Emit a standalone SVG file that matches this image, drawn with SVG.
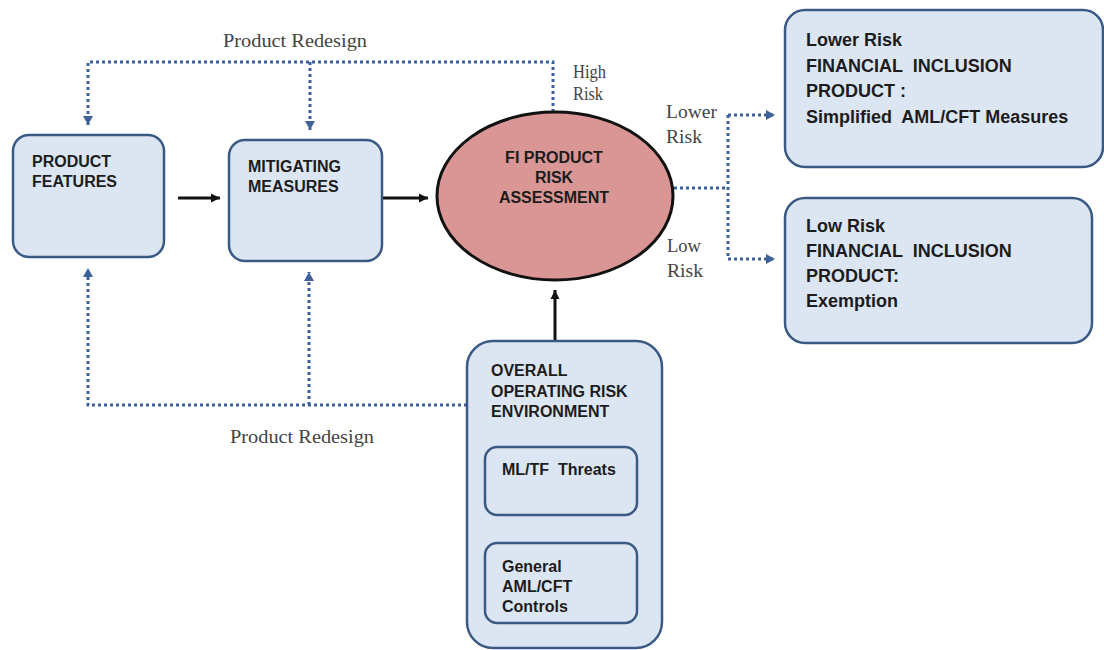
<svg xmlns="http://www.w3.org/2000/svg" width="1104" height="650" viewBox="0 0 1104 650">
<defs>
<style>
.box{fill:#dce6f2;stroke:#3a5a85;stroke-width:2.5}
.t{font-family:"Liberation Sans",Arial,sans-serif;font-weight:bold;font-size:16px;fill:#1c1c1c}
.tr{font-family:"Liberation Sans",Arial,sans-serif;font-weight:bold;font-size:18px;fill:#1c1c1c}
.s{font-family:"Liberation Serif","Times New Roman",serif;font-size:18px;fill:#444}
.dot{fill:none;stroke:#3f6199;stroke-width:3;stroke-dasharray:3 3}
.solid{fill:none;stroke:#111;stroke-width:3}
</style>
<marker id="ab" markerUnits="userSpaceOnUse" markerWidth="12" markerHeight="12" refX="10" refY="6" orient="auto">
<path d="M1,1 L10,6 L1,11 Z" fill="#3f6199"/>
</marker>
<marker id="ak" markerUnits="userSpaceOnUse" markerWidth="12" markerHeight="12" refX="10" refY="6" orient="auto">
<path d="M1,1.5 L10,6 L1,10.5 Z" fill="#111"/>
</marker>
</defs>
<rect width="1104" height="650" fill="#fff"/>

<g id="connectors">
<path class="dot" d="M553,112 V62 H88 V125" marker-end="url(#ab)"/>
<path class="dot" d="M310,62 V130" marker-end="url(#ab)"/>
<path class="dot" d="M467,405 H88 V268" marker-end="url(#ab)"/>
<path class="dot" d="M309,405 V272" marker-end="url(#ab)"/>
<path class="dot" d="M674,188 H728"/>
<path class="dot" d="M728,115 V259"/>
<path class="dot" d="M728,115 H775" marker-end="url(#ab)"/>
<path class="dot" d="M728,259 H775" marker-end="url(#ab)"/>
<path class="solid" d="M178,198 H220" marker-end="url(#ak)"/>
<path class="solid" d="M382,198 H428" marker-end="url(#ak)"/>
<path class="solid" d="M555,340 V290" marker-end="url(#ak)"/>
<text class="s" x="295" y="47" text-anchor="middle" textLength="144" lengthAdjust="spacingAndGlyphs">Product Redesign</text>
<text class="s" x="302" y="443" text-anchor="middle" textLength="144" lengthAdjust="spacingAndGlyphs">Product Redesign</text>
<text class="s" x="573" y="78" textLength="33" lengthAdjust="spacingAndGlyphs">High</text>
<text class="s" x="573" y="100" textLength="30" lengthAdjust="spacingAndGlyphs">Risk</text>
<text class="s" x="666" y="118" textLength="51" lengthAdjust="spacingAndGlyphs">Lower</text>
<text class="s" x="666" y="143" textLength="36" lengthAdjust="spacingAndGlyphs">Risk</text>
<text class="s" x="667" y="252" textLength="34" lengthAdjust="spacingAndGlyphs">Low</text>
<text class="s" x="667" y="277" textLength="36" lengthAdjust="spacingAndGlyphs">Risk</text>
</g>

<g id="product-features">
<rect class="box" x="13" y="135" width="151" height="122" rx="16"/>
<text class="t" x="32" y="167">PRODUCT</text>
<text class="t" x="32" y="187">FEATURES</text>
</g>

<g id="mitigating-measures">
<rect class="box" x="229" y="140" width="153" height="121" rx="16"/>
<text class="t" x="248" y="172">MITIGATING</text>
<text class="t" x="248" y="192">MEASURES</text>
</g>

<g id="risk-assessment">
<ellipse cx="555" cy="196" rx="118" ry="84" fill="#d99694" stroke="#111" stroke-width="3"/>
<text class="t" x="554" y="163" text-anchor="middle">FI PRODUCT</text>
<text class="t" x="554" y="183" text-anchor="middle">RISK</text>
<text class="t" x="554" y="203" text-anchor="middle">ASSESSMENT</text>
</g>

<g id="lower-risk-product">
<rect class="box" x="785" y="10" width="318" height="157" rx="20"/>
<text class="tr" x="806" y="46">Lower Risk</text>
<text class="tr" x="806" y="72" xml:space="preserve">FINANCIAL  INCLUSION</text>
<text class="tr" x="806" y="97">PRODUCT :</text>
<text class="tr" x="806" y="123" xml:space="preserve">Simplified  AML/CFT Measures</text>
</g>

<g id="low-risk-product">
<rect class="box" x="785" y="198" width="307" height="145" rx="20"/>
<text class="tr" x="806" y="232">Low Risk</text>
<text class="tr" x="806" y="257" xml:space="preserve">FINANCIAL  INCLUSION</text>
<text class="tr" x="806" y="282">PRODUCT:</text>
<text class="tr" x="806" y="307">Exemption</text>
</g>

<g id="operating-risk-environment">
<rect class="box" x="467" y="341" width="195" height="307" rx="26"/>
<text class="t" x="491" y="376">OVERALL</text>
<text class="t" x="491" y="397">OPERATING RISK</text>
<text class="t" x="491" y="417">ENVIRONMENT</text>
</g>

<g id="ml-tf-threats">
<rect class="box" x="485" y="447" width="152" height="68" rx="12"/>
<text class="t" x="502" y="475" xml:space="preserve">ML/TF  Threats</text>
</g>

<g id="aml-cft-controls">
<rect class="box" x="485" y="543" width="152" height="80" rx="12"/>
<text class="t" x="502" y="572">General</text>
<text class="t" x="502" y="592">AML/CFT</text>
<text class="t" x="502" y="612">Controls</text>
</g>
</svg>
